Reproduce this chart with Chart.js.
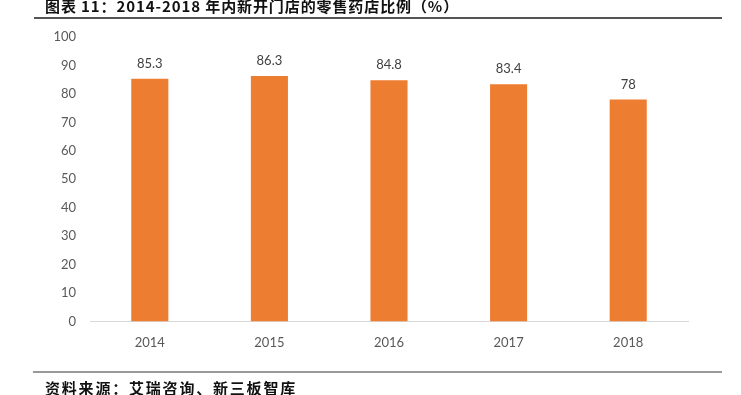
<!DOCTYPE html>
<html>
<head>
    <meta charset="utf-8">
    <script src="https://cdn.jsdelivr.net/npm/chart.js@4.4.0/dist/chart.umd.min.js"></script>
    <style>
        body { margin: 0; background: #fff; }
        #wrap { position: relative; width: 741px; height: 395px; overflow: hidden; }
        #chart-container { position: absolute; left: 0; top: 0; width: 741px; height: 395px; }
        .title {
            position: absolute; left: 45px; top: -5px; letter-spacing: 0.9px;
            font: bold 15px "Noto Sans CJK SC", sans-serif; color: #111; white-space: nowrap;
        }
        .rule-top { position: absolute; left: 34px; top: 17px; width: 688px; height: 2px; background: #555; }
        .rule-bottom { position: absolute; left: 33px; top: 371px; width: 689px; height: 2px; background: #999; }
        .source {
            position: absolute; left: 45px; top: 377px; letter-spacing: 1.8px;
            font: bold 15px "Noto Sans CJK SC", sans-serif; color: #111; white-space: nowrap;
        }
    </style>
</head>
<body>
<div id="wrap">
    <div id="chart-container">
        <canvas id="myBarChart"></canvas>
    </div>
    <div class="title">图表 11：2014-2018 年内新开门店的零售药店比例（%）</div>
    <div class="rule-top"></div>
    <div class="rule-bottom"></div>
    <div class="source">资料来源：艾瑞咨询、新三板智库</div>
</div>
<script>
    const years = ["2014", "2015", "2016", "2017", "2018"];
    const shares = [85.3, 86.3, 84.8, 83.4, 78];
    const yTicks = [0, 10, 20, 30, 40, 50, 60, 70, 80, 90, 100];

    // value labels above each bar
    const valueLabels = {
        id: 'valueLabels',
        afterDatasetsDraw(chart) {
            const c = chart.ctx;
            c.save();
            c.font = '13px Lato, sans-serif';
            c.fillStyle = '#404040';
            c.textAlign = 'center';
            c.textBaseline = 'middle';
            chart.getDatasetMeta(0).data.forEach((bar, i) => {
                c.fillText(String(shares[i]), bar.x, bar.y - 15);
            });
            c.restore();
        }
    };

    const ctx = document.getElementById('myBarChart').getContext('2d');
    new Chart(ctx, {
        type: 'bar',
        data: {
            labels: years,
            datasets: [{
                data: shares,
                backgroundColor: '#ED7D31',
                barPercentage: 0.31,
                categoryPercentage: 1
            }]
        },
        options: {
            responsive: true,
            maintainAspectRatio: false,
            animation: false,
            layout: { padding: { top: 37, right: 53, bottom: 0, left: 0 } },
            plugins: {
                legend: { display: false },
                tooltip: { enabled: false }
            },
            scales: {
                x: {
                    grid: { display: false, drawTicks: false },
                    border: { color: '#D9D9D9', width: 1 },
                    ticks: { color: '#595959', font: { size: 13, family: 'Lato' }, padding: 14 },
                    afterFit(scale) { scale.height = 73.5; }
                },
                y: {
                    min: 0,
                    max: 100,
                    afterBuildTicks(scale) { scale.ticks = yTicks.map(v => ({ value: v })); },
                    grid: { display: false, drawTicks: false },
                    border: { display: false },
                    ticks: { color: '#595959', font: { size: 13, family: 'Lato' }, padding: 14 },
                    afterFit(scale) { scale.width = 90; }
                }
            }
        },
        plugins: [valueLabels]
    });
</script>
</body>
</html>
